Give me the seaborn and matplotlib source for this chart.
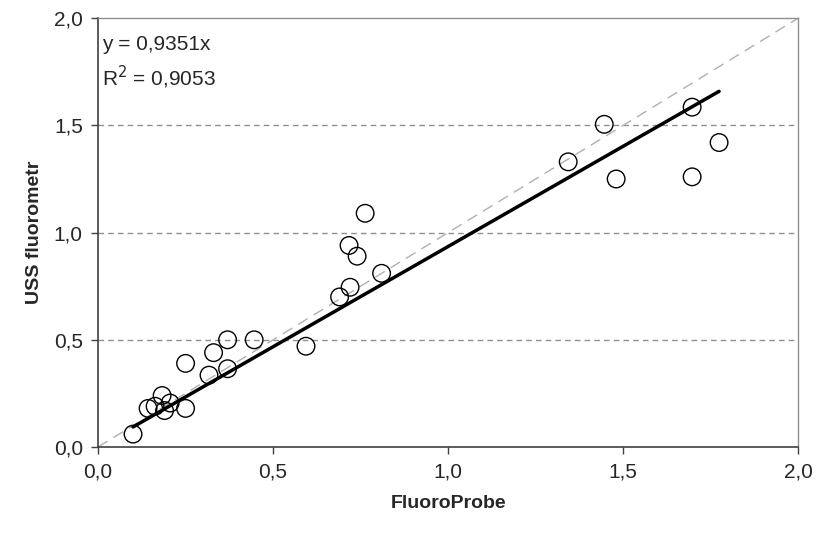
import matplotlib
matplotlib.use("Agg")
import matplotlib.pyplot as plt
import seaborn as sns
import numpy as np
import pandas as pd

fluoroprobe = [0.10, 0.143, 0.163, 0.183, 0.19, 0.206, 0.25, 0.25, 0.317, 0.33, 0.37, 0.37,
               0.446, 0.594, 0.69, 0.72, 0.717, 0.74, 0.763, 0.81, 1.343, 1.446, 1.48,
               1.697, 1.697, 1.774]
uss = [0.06, 0.18, 0.19, 0.24, 0.17, 0.205, 0.39, 0.18, 0.335, 0.44, 0.50, 0.365,
       0.50, 0.47, 0.70, 0.745, 0.94, 0.89, 1.09, 0.81, 1.33, 1.505, 1.25,
       1.585, 1.26, 1.42]
slope = 0.9351
r2 = 0.9053
ticks = [0.0, 0.5, 1.0, 1.5, 2.0]
tick_labels = ["0,0", "0,5", "1,0", "1,5", "2,0"]

df = pd.DataFrame({"FluoroProbe": fluoroprobe, "USS": uss})

sns.set_style("white")
plt.rcParams['font.family'] = ['Liberation Sans', 'DejaVu Sans']

fig = plt.figure(figsize=(8.17, 5.35), dpi=100)
ax = fig.add_axes([0.12, 0.1645, 0.857, 0.8015])

# 1:1 line
one = pd.DataFrame({"x": [0.0, 2.0], "y": [0.0, 2.0]})
sns.lineplot(data=one, x="x", y="y", ax=ax, color="#b0b0b0", lw=1.0,
             linestyle=(0, (8, 5)), zorder=1)

# grid lines
for t in ticks[1:-1]:
    ax.axhline(t, color="#909090", lw=1.0, linestyle=(0, (4, 3)), zorder=0)

# regression line
xr = np.array([min(fluoroprobe), max(fluoroprobe)])
reg = pd.DataFrame({"x": xr, "y": slope * xr})
sns.lineplot(data=reg, x="x", y="y", ax=ax, color="black", lw=2.5, zorder=2)

sns.scatterplot(data=df, x="FluoroProbe", y="USS", ax=ax, s=160, marker="o",
                facecolor="none", edgecolor="black", linewidth=1.0, zorder=3)

ax.set_xlim(0, 2)
ax.set_ylim(0, 2)
ax.set_xticks(ticks)
ax.set_xticklabels(tick_labels)
ax.set_yticks(ticks)
ax.set_yticklabels(tick_labels)
ax.tick_params(axis="both", direction="out", length=5, width=1, color="#404040",
               labelsize=15, pad=6, bottom=True, left=True)

for side in ["left", "bottom"]:
    ax.spines[side].set_color("#404040")
    ax.spines[side].set_linewidth(1.2)
for side in ["top", "right"]:
    ax.spines[side].set_color("#909090")
    ax.spines[side].set_linewidth(1.0)

ax.set_xlabel("FluoroProbe", fontsize=14, fontweight="bold", labelpad=10)
ax.set_ylabel("USS fluorometr", fontsize=14, fontweight="bold", labelpad=8)

ax.text(0.005, 0.96, "y = 0,9351x", transform=ax.transAxes, fontsize=15,
        va="top", ha="left")
ax.text(0.005, 0.893, "R$^2$ = 0,9053", transform=ax.transAxes, fontsize=15,
        va="top", ha="left")

fig.savefig("out.png", dpi=100)
